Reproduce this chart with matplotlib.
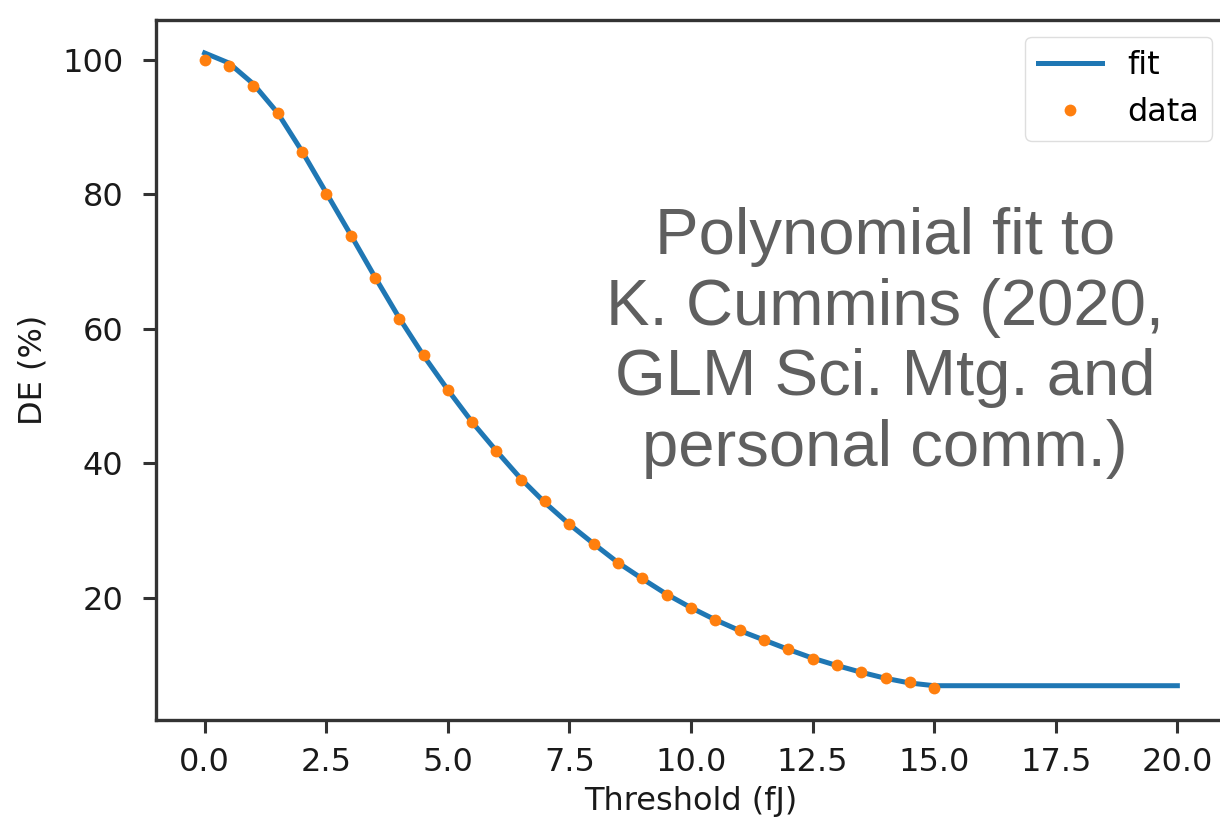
import numpy as np
import matplotlib
matplotlib.use('Agg')
from matplotlib import pyplot as plt

# data points
threshold = [0.0, 0.5, 1.0, 1.5, 2.0, 2.5, 3.0, 3.5, 4.0, 4.5, 5.0,
             5.5, 6.0, 6.5, 7.0, 7.5, 8.0, 8.5, 9.0, 9.5, 10.0,
             10.5, 11.0, 11.5, 12.0, 12.5, 13.0, 13.5, 14.0, 14.5, 15.0]
de_data = [100.0, 99.1, 96.1, 92.0, 86.2, 80.0, 73.8, 67.6, 61.5, 56.1, 50.9,
           46.1, 41.8, 37.5, 34.3, 30.9, 28.0, 25.1, 22.9, 20.4, 18.5,
           16.6, 15.2, 13.7, 12.3, 10.9, 10.0, 8.9, 8.0, 7.4, 6.5]

# fit curve, same thresholds plus the flat tail out to 20 fJ
fit_x = threshold + [20.0]
fit_y = [101.0, 99.5, 96.4, 92.1, 86.4, 80.2, 74.0, 67.7, 61.6, 56.0, 50.9,
         46.1, 41.8, 37.7, 34.1, 30.9, 28.0, 25.2, 22.8, 20.5, 18.5,
         16.7, 15.1, 13.7, 12.3, 11.0, 9.9, 8.9, 8.0, 7.3, 6.9, 6.9]

xticks = [0.0, 2.5, 5.0, 7.5, 10.0, 12.5, 15.0, 17.5, 20.0]
yticks = [20, 40, 60, 80, 100]

note = 'Polynomial fit to\nK. Cummins (2020,\nGLM Sci. Mtg. and\npersonal comm.)'

fs = 23
fig = plt.figure(figsize=(12.2, 8.19), dpi=100)
# right edge of the axes sits just past the figure, as in the cropped original
ax = fig.add_axes([156 / 1220, 99 / 819, 1070 / 1220, 700 / 819])

ax.plot(fit_x, fit_y, color='#1f77b4', lw=5.0 * 72 / 100, label='fit')
ax.plot(threshold, de_data, 'o', color='#ff7f0e', ms=8.5, mew=0, label='data')

ax.set_xlim(-1, 21)
ax.set_ylim(1.8, 105.9)
ax.set_xticks(xticks)
ax.set_yticks(yticks)
ax.set_xticklabels(['%.1f' % t for t in xticks])

for s in ax.spines.values():
    s.set_linewidth(2.4)
    s.set_color('#333333')
ax.tick_params(axis='both', labelsize=fs, length=9.5, width=2.2,
               color='#333333', labelcolor='#1a1a1a', pad=10)
ax.tick_params(axis='y', pad=14)

ax.set_xlabel('Threshold (fJ)', fontsize=fs, color='#1a1a1a', labelpad=6)
ax.set_ylabel('DE (%)', fontsize=fs, color='#1a1a1a', labelpad=10)

ax.legend(loc='upper right', bbox_to_anchor=(1212 / 1220, 782 / 819),
          bbox_transform=fig.transFigure, borderaxespad=0, fontsize=fs,
          framealpha=0.8, edgecolor='#d6d6d6', fancybox=True)

fig.text(885 / 1220, 1 - 343 / 819, note, ha='center', va='center',
         fontsize=47, color='#5f5f5f', family='Liberation Sans',
         linespacing=1.22)

fig.savefig('out.png', dpi=100)
